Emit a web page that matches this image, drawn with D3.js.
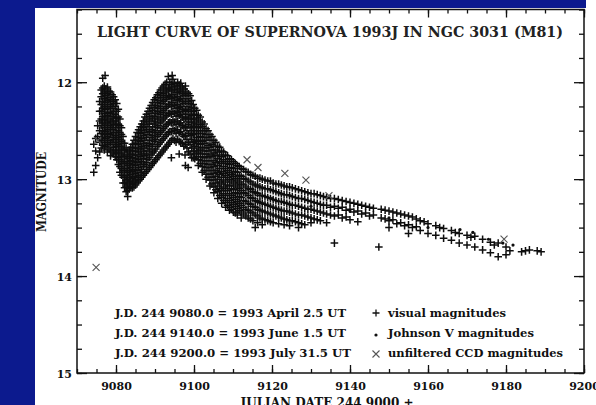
<!DOCTYPE html>
<html><head><meta charset="utf-8">
<script src="https://cdn.jsdelivr.net/npm/d3@7"></script>
<style>html,body{margin:0;padding:0;background:#0c1a8e;overflow:hidden}svg{display:block}</style>
</head><body><svg id="c" width="596" height="405"></svg>
<script>
// ---------- DATA ----------
const titleText = "LIGHT CURVE OF SUPERNOVA 1993J IN NGC 3031 (M81)";
const xTitle = "JULIAN DATE 244 9000 +";
const yTitle = "MAGNITUDE";
const xTicks = [9080, 9100, 9120, 9140, 9160, 9180, 9200];
const yTicks = [12, 13, 14, 15];
const xDomain = [9070, 9200];
const yDomain = [11.25, 15];
const dateNotes = ["J.D. 244 9080.0 = 1993 April 2.5 UT", "J.D. 244 9140.0 = 1993 June 1.5 UT", "J.D. 244 9200.0 = 1993 July 31.5 UT"];
const seriesLabels = ["visual magnitudes", "Johnson V magnitudes", "unfiltered CCD magnitudes"];

// visual magnitudes: [JD - 2440000, [magnitudes estimated near that date]]
const visualObs = [
[9074.3,[12.64,12.93]],[9074.8,[12.58,12.71,12.86]],[9075.3,[12.45,12.56,12.78]],
[9075.8,[12.2,12.3,12.4,12.5,12.62,12.72]],
[9076.2,[12.08,12.15,12.23,12.3,12.38,12.45,12.53,12.6,12.68]],
[9076.6,[11.96,12.06,12.12,12.2,12.27,12.35,12.42,12.5,12.57,12.65]],
[9077.0,[12.04,12.1,12.17,12.25,12.32,12.39,12.47,12.54,12.62,12.7]],
[9077.2,[11.93]],
[9077.4,[12.07,12.14,12.21,12.28,12.36,12.43,12.51,12.58,12.66]],
[9077.8,[12.05,12.12,12.19,12.27,12.34,12.41,12.49,12.56,12.64,12.72]],
[9078.2,[12.09,12.16,12.23,12.31,12.38,12.45,12.53,12.6,12.68]],
[9078.6,[12.1,12.18,12.25,12.32,12.4,12.47,12.54,12.62,12.7,12.76]],
[9079.0,[12.13,12.2,12.27,12.35,12.42,12.49,12.57,12.64,12.72]],
[9079.4,[12.15,12.22,12.3,12.37,12.44,12.52,12.59,12.67,12.74]],
[9079.8,[12.18,12.25,12.33,12.4,12.47,12.55,12.62,12.7,12.77]],
[9080.2,[12.22,12.3,12.37,12.44,12.52,12.59,12.66,12.73,12.8]],
[9080.6,[12.28,12.36,12.43,12.5,12.57,12.64,12.71,12.78,12.85]],
[9081.0,[12.38,12.45,12.52,12.59,12.66,12.73,12.8,12.87,12.93]],
[9081.4,[12.47,12.54,12.61,12.68,12.75,12.82,12.89,12.96]],
[9081.8,[12.56,12.63,12.7,12.77,12.84,12.91,12.98,13.04]],
[9082.2,[12.63,12.7,12.77,12.84,12.91,12.98,13.04,13.09]],
[9082.6,[12.68,12.75,12.82,12.89,12.96,13.02,13.08,13.13]],
[9083.0,[12.72,12.79,12.86,12.93,13.0,13.06,13.12,13.18]],
[9083.4,[12.7,12.77,12.84,12.91,12.98,13.04,13.1]],
[9083.8,[12.67,12.74,12.81,12.88,12.95,13.02,13.08]],
[9084.2,[12.64,12.71,12.78,12.85,12.92,12.99,13.05,13.09]],
[9084.6,[12.6,12.68,12.75,12.82,12.9,12.97,13.03,13.08]],
[9085.0,[12.56,12.63,12.71,12.79,12.86,12.94,13.01,13.06]],
[9085.4,[12.52,12.6,12.68,12.75,12.83,12.91,12.98,13.04]],
[9085.8,[12.49,12.57,12.64,12.72,12.8,12.88,12.96,13.02]],
[9086.2,[12.46,12.53,12.61,12.69,12.77,12.85,12.93,13.0]],
[9086.6,[12.43,12.5,12.58,12.66,12.74,12.82,12.9,12.98]],
[9087.0,[12.4,12.47,12.55,12.63,12.71,12.79,12.87,12.96]],
[9087.4,[12.36,12.44,12.52,12.6,12.68,12.76,12.85,12.94]],
[9087.8,[12.33,12.41,12.49,12.57,12.65,12.74,12.83,12.92]],
[9088.2,[12.3,12.38,12.46,12.54,12.63,12.71,12.8,12.9]],
[9088.6,[12.27,12.35,12.43,12.51,12.6,12.69,12.78,12.88]],
[9089.0,[12.24,12.32,12.4,12.49,12.57,12.66,12.75,12.86]],
[9089.4,[12.21,12.29,12.37,12.46,12.55,12.64,12.73,12.84]],
[9089.8,[12.18,12.26,12.35,12.43,12.52,12.61,12.71,12.82]],
[9090.2,[12.16,12.24,12.32,12.41,12.5,12.59,12.69,12.8]],
[9090.6,[12.13,12.21,12.3,12.38,12.47,12.56,12.66,12.78]],
[9091.0,[12.11,12.19,12.27,12.36,12.45,12.54,12.64,12.76]],
[9091.4,[12.08,12.16,12.25,12.33,12.42,12.52,12.62,12.74]],
[9091.8,[12.06,12.14,12.22,12.31,12.4,12.5,12.6,12.72]],
[9092.2,[12.04,12.12,12.2,12.29,12.38,12.48,12.58,12.7]],
[9092.6,[12.02,12.1,12.18,12.27,12.36,12.46,12.56,12.68]],
[9093.0,[12.0,12.08,12.16,12.25,12.34,12.44,12.54,12.66]],
[9093.4,[11.94,12.06,12.14,12.23,12.32,12.42,12.52,12.64]],
[9093.8,[12.0,12.07,12.15,12.23,12.32,12.41,12.51,12.62]],
[9094.2,[12.02,12.09,12.17,12.25,12.33,12.42,12.51,12.6,12.78]],
[9094.4,[11.93]],
[9094.6,[11.97,12.05,12.13,12.21,12.3,12.39,12.48,12.58]],
[9095.0,[12.01,12.08,12.16,12.24,12.32,12.41,12.5,12.6]],
[9095.4,[12.04,12.11,12.19,12.27,12.35,12.44,12.53,12.62]],
[9095.8,[12.0,12.07,12.15,12.23,12.31,12.4,12.49,12.59]],
[9096.2,[12.03,12.1,12.18,12.26,12.34,12.43,12.52,12.61,12.74]],
[9096.6,[12.01,12.09,12.17,12.25,12.33,12.42,12.51,12.62]],
[9097.0,[12.05,12.12,12.2,12.28,12.36,12.45,12.54,12.63]],
[9097.4,[12.07,12.14,12.22,12.3,12.38,12.47,12.56,12.66]],
[9097.7,[12.75]],
[9097.8,[12.04,12.12,12.2,12.29,12.37,12.46,12.55,12.64,12.86]],
[9098.2,[12.1,12.17,12.25,12.33,12.41,12.5,12.59,12.68]],
[9098.5,[12.88]],
[9098.6,[12.12,12.2,12.28,12.36,12.44,12.53,12.62,12.72]],
[9099.0,[12.14,12.22,12.3,12.38,12.47,12.55,12.64,12.74]],
[9099.4,[12.19,12.26,12.34,12.42,12.5,12.59,12.68,12.78]],
[9099.8,[12.23,12.3,12.38,12.46,12.54,12.62,12.71,12.78]],
[9100.2,[12.27,12.33,12.41,12.46,12.53,12.61,12.66,12.74,12.79]],
[9100.7,[12.29,12.37,12.43,12.5,12.57,12.63,12.71,12.77]],
[9101.1,[12.34,12.39,12.47,12.53,12.6,12.68,12.73,12.8,12.86]],
[9101.6,[12.36,12.44,12.5,12.56,12.64,12.7,12.77,12.84]],
[9102.1,[12.41,12.46,12.53,12.61,12.67,12.74,12.81,12.87,12.93]],
[9102.6,[12.43,12.5,12.57,12.63,12.71,12.78,12.84,12.91]],
[9103.1,[12.48,12.54,12.6,12.68,12.74,12.81,12.88,12.95,13.0]],
[9103.6,[12.5,12.57,12.65,12.71,12.77,12.85,12.91,12.98]],
[9104.1,[12.54,12.6,12.67,12.75,12.81,12.88,12.95,13.01,13.07]],
[9104.6,[12.56,12.64,12.7,12.77,12.85,12.91,12.98,13.05]],
[9105.1,[12.6,12.66,12.73,12.81,12.87,12.94,13.01,13.08,13.14]],
[9105.6,[12.62,12.7,12.76,12.83,12.91,12.97,13.04,13.11]],
[9106.1,[12.66,12.72,12.79,12.86,12.93,13.0,13.07,13.13,13.2]],
[9106.6,[12.67,12.75,12.82,12.89,12.95,13.03,13.1,13.17]],
[9107.1,[12.71,12.77,12.84,12.92,12.98,13.05,13.12,13.19,13.25]],
[9107.6,[12.72,12.8,12.87,12.94,13.01,13.08,13.15,13.22]],
[9108.1,[12.75,12.82,12.89,12.96,13.03,13.1,13.17,13.24,13.29]],
[9108.6,[12.76,12.84,12.91,12.98,13.06,13.12,13.2,13.27]],
[9109.1,[12.79,12.85,12.93,13.0,13.07,13.15,13.22,13.29,13.32]],
[9109.6,[12.8,12.88,12.95,13.02,13.1,13.17,13.24,13.31]],
[9110.1,[12.82,12.89,12.97,13.04,13.11,13.19,13.26,13.34]],
[9110.6,[12.84,12.92,12.99,13.06,13.14,13.21,13.28,13.35]],
[9111.1,[12.86,12.93,13.01,13.08,13.15,13.23,13.3,13.37]],
[9111.6,[12.87,12.96,13.03,13.1,13.18,13.25,13.32]],
[9112.1,[12.89,12.97,13.05,13.12,13.19,13.27,13.34,13.4]],
[9112.7,[12.9,12.99,13.06,13.14,13.22,13.29,13.36]],
[9113.3,[12.92,13.0,13.08,13.15,13.23,13.31,13.38]],
[9113.9,[12.93,13.02,13.1,13.17,13.25,13.32,13.4]],
[9114.5,[12.95,13.03,13.11,13.19,13.26,13.34,13.41]],
[9115.1,[12.96,13.05,13.13,13.2,13.28,13.35,13.43]],
[9115.7,[12.97,13.06,13.14,13.22,13.29,13.37,13.5]],
[9116.3,[12.99,13.07,13.15,13.23,13.31,13.38,13.45]],
[9116.9,[12.99,13.08,13.17,13.24,13.32,13.4]],
[9117.5,[13.0,13.09,13.17,13.25,13.33,13.41,13.47]],
[9118.2,[13.01,13.1,13.18,13.26,13.34,13.42]],
[9118.9,[13.02,13.1,13.19,13.27,13.35,13.43]],
[9119.6,[13.02,13.11,13.2,13.28,13.36,13.44]],
[9120.3,[13.04,13.12,13.21,13.29,13.37,13.45]],
[9121.0,[13.05,13.13,13.22,13.3,13.38]],
[9121.7,[13.05,13.14,13.23,13.31,13.39,13.46]],
[9122.4,[13.06,13.15,13.23,13.32,13.4]],
[9123.1,[13.07,13.16,13.24,13.33,13.41,13.47]],
[9123.8,[13.08,13.16,13.25,13.33,13.42]],
[9124.5,[13.08,13.17,13.26,13.34,13.43,13.48]],
[9125.2,[13.09,13.18,13.27,13.35,13.43]],
[9126.0,[13.1,13.19,13.27,13.36,13.44]],
[9126.8,[13.11,13.2,13.28,13.37,13.45,13.5]],
[9127.6,[13.12,13.2,13.29,13.37,13.46]],
[9128.4,[13.13,13.21,13.3,13.38,13.47]],
[9129.2,[13.14,13.22,13.31,13.39]],
[9130.0,[13.15,13.23,13.31,13.4,13.45]],
[9130.8,[13.15,13.24,13.32,13.41]],
[9131.6,[13.16,13.25,13.33,13.42]],
[9132.4,[13.17,13.26,13.34,13.43]],
[9133.2,[13.18,13.27,13.35]],
[9134.0,[13.19,13.27,13.36,13.45]],
[9135.0,[13.2,13.29,13.37]],
[9136.0,[13.2,13.28,13.38,13.66]],
[9137.0,[13.21,13.3,13.37]],[9138.0,[13.22,13.29,13.4]],[9139.0,[13.23,13.32,13.39]],
[9140.0,[13.24,13.31,13.42]],[9141.0,[13.25,13.34]],[9142.0,[13.26,13.33,13.44]],
[9143.0,[13.27,13.36]],[9144.0,[13.28,13.35]],[9145.0,[13.29,13.38]],[9146.0,[13.3,13.37]],
[9147.4,[13.7]],[9148.0,[13.31,13.4]],[9149.0,[13.32,13.41]],[9150.0,[13.33,13.43,13.5]],
[9151.0,[13.34,13.42]],[9152.0,[13.35,13.46]],[9153.0,[13.36,13.45]],[9154.0,[13.37,13.48]],
[9155.0,[13.38,13.47,13.56]],[9156.0,[13.39,13.5]],[9157.0,[13.41,13.49]],[9158.0,[13.43,13.53]],
[9159.0,[13.44]],[9160.0,[13.46,13.56]],[9162.0,[13.48,13.58]],[9163.0,[13.5]],
[9164.0,[13.51,13.61]],[9166.0,[13.53,13.63]],[9167.0,[13.55]],[9168.0,[13.56,13.66]],
[9170.0,[13.58,13.68]],[9171.0,[13.6]],[9172.0,[13.59,13.7]],[9174.0,[13.62,13.73]],
[9176.0,[13.65,13.76]],[9177.0,[13.68]],[9178.0,[13.66,13.8]],[9180.0,[13.7,13.78]],
[9181.0,[13.74]],[9184.0,[13.75]],[9185.0,[13.74]],[9186.0,[13.73]],[9188.0,[13.74]],[9189.0,[13.75]]
];
// Johnson V magnitudes: [JD - 2440000, mag]
const johnsonV = [[9096.0,12.3],[9100.0,12.45],[9105.0,12.75],[9110.0,12.95],[9115.0,13.1],[9120.0,13.2],
[9130.0,13.28],[9140.0,13.33],[9150.0,13.4],[9160.0,13.5],[9168.2,13.52],[9171.5,13.55],[9175.5,13.62],[9179.2,13.66],[9181.8,13.68]];
// unfiltered CCD magnitudes: [JD - 2440000, mag]
const ccdObs = [[9074.9,13.91],[9075.3,12.6],[9113.6,12.8],[9116.4,12.88],[9123.3,12.94],[9128.7,13.01],[9134.6,13.17],[9179.5,13.62]];

// ---------- DRAWING ----------
const W = 596, H = 405;
const BLUE = "#0c1a8e", INK = "#111";
const FONT = "'DejaVu Serif', 'Liberation Serif', serif";
const svg = d3.select("#c");
const defs = svg.append("defs");
defs.append("filter").attr("id", "soft").attr("x", "-5%").attr("y", "-5%").attr("width", "110%").attr("height", "110%")
  .append("feGaussianBlur").attr("stdDeviation", 0.55);

svg.append("rect").attr("width", W).attr("height", H).attr("fill", BLUE);
svg.append("rect").attr("x", 35).attr("y", 8).attr("width", W - 35).attr("height", H - 8).attr("fill", "#fff");
svg.append("rect").attr("x", 586).attr("y", 0).attr("width", 10).attr("height", 8).attr("fill", "#fff");

const L = 77, R = 584, T = 9.5, B = 373;
const x = d3.scaleLinear().domain(xDomain).range([L, R]);
const y = d3.scaleLinear().domain(yDomain).range([T, B]);

const minorX = x.ticks(26);
const minorY = d3.range(yDomain[0], yDomain[1] + 0.001, 0.25);

function styleAxis(g) {
  g.select(".domain").remove();
  g.selectAll(".tick line").attr("stroke", INK).attr("stroke-width", 1.3);
  g.selectAll(".tick text").attr("fill", INK).style("font-family", FONT).style("font-weight", "bold").style("font-size", "11px");
}
svg.append("g").attr("transform", `translate(0,${B})`).call(d3.axisBottom(x).tickValues(minorX).tickSize(-4).tickFormat("")).call(styleAxis);
svg.append("g").attr("transform", `translate(0,${B})`).call(d3.axisBottom(x).tickValues(xTicks).tickSize(-8).tickPadding(12).tickFormat(d3.format("d"))).call(styleAxis);
svg.append("g").attr("transform", `translate(0,${T})`).call(d3.axisTop(x).tickValues(minorX).tickSize(-4).tickFormat("")).call(styleAxis);
svg.append("g").attr("transform", `translate(0,${T})`).call(d3.axisTop(x).tickValues(xTicks).tickSize(-8).tickFormat("")).call(styleAxis);
svg.append("g").attr("transform", `translate(${L},0)`).call(d3.axisLeft(y).tickValues(minorY).tickSize(-5).tickFormat("")).call(styleAxis);
svg.append("g").attr("transform", `translate(${L},0)`).call(d3.axisLeft(y).tickValues(yTicks).tickSize(-10).tickPadding(5).tickFormat(d3.format("d"))).call(styleAxis);
svg.append("g").attr("transform", `translate(${R},0)`).call(d3.axisRight(y).tickValues(minorY).tickSize(-5).tickFormat("")).call(styleAxis);
svg.append("g").attr("transform", `translate(${R},0)`).call(d3.axisRight(y).tickValues(yTicks).tickSize(-10).tickFormat("")).call(styleAxis);
svg.selectAll(".tick text").attr("dy", "0.42em");

svg.append("rect").attr("x", L).attr("y", T).attr("width", R - L).attr("height", B - T)
  .attr("fill", "none").attr("stroke", INK).attr("stroke-width", 1.5);

const plusPath = (cx, cy, s) => `M${cx - s},${cy}H${cx + s}M${cx},${cy - s}V${cy + s}`;
const crossPath = (cx, cy, s) => `M${cx - s},${cy - s}L${cx + s},${cy + s}M${cx - s},${cy + s}L${cx + s},${cy - s}`;

const marks = svg.append("g").attr("filter", "url(#soft)");
const visualPts = visualObs.flatMap(([jd, ms]) => ms.map(m => [jd, m]));
marks.append("g").selectAll("path").data(visualPts).join("path")
  .attr("d", d => plusPath(x(d[0]), y(d[1]), 3.8))
  .attr("stroke", INK).attr("stroke-width", 1.5).attr("fill", "none");
marks.append("g").selectAll("circle").data(johnsonV).join("circle")
  .attr("cx", d => x(d[0])).attr("cy", d => y(d[1])).attr("r", 1.6).attr("fill", INK);
marks.append("g").selectAll("path").data(ccdObs).join("path")
  .attr("d", d => crossPath(x(d[0]), y(d[1]), 3.5))
  .attr("stroke", "#555").attr("stroke-width", 1.1).attr("fill", "none");

svg.append("text").attr("x", 330).attr("y", 37).attr("text-anchor", "middle")
  .attr("textLength", 466).attr("lengthAdjust", "spacingAndGlyphs")
  .style("font-family", FONT).style("font-weight", "bold").style("font-size", "14px").attr("fill", "#222")
  .text(titleText);

const noteLen = [231, 231, 236];
dateNotes.forEach((t, i) => {
  svg.append("text").attr("x", 115).attr("y", 317 + i * 20)
    .attr("textLength", noteLen[i]).attr("lengthAdjust", "spacingAndGlyphs")
    .style("font-family", FONT).style("font-weight", "bold").style("font-size", "11px").attr("fill", INK).text(t);
});
const labLen = [118, 146, 175];
seriesLabels.forEach((t, i) => {
  const cy = 313 + i * 20 + (i === 1 ? 2 : 0);
  if (i === 0) svg.append("path").attr("d", plusPath(376, cy, 3.5)).attr("stroke", INK).attr("stroke-width", 1.3);
  if (i === 1) svg.append("circle").attr("cx", 376).attr("cy", cy).attr("r", 1.6).attr("fill", INK);
  if (i === 2) svg.append("path").attr("d", crossPath(376, cy + 1, 3.5)).attr("stroke", "#555").attr("stroke-width", 1.1);
  svg.append("text").attr("x", 388).attr("y", 317 + i * 20)
    .attr("textLength", labLen[i]).attr("lengthAdjust", "spacingAndGlyphs")
    .style("font-family", FONT).style("font-weight", "bold").style("font-size", "11px").attr("fill", INK).text(t);
});

svg.append("text").attr("x", 327).attr("y", 407).attr("text-anchor", "middle")
  .attr("textLength", 173).attr("lengthAdjust", "spacingAndGlyphs")
  .style("font-family", FONT).style("font-weight", "bold").style("font-size", "12px").attr("fill", INK).text(xTitle);
svg.append("text").attr("transform", "translate(46,192) rotate(-90)").attr("text-anchor", "middle")
  .attr("textLength", 80).attr("lengthAdjust", "spacingAndGlyphs")
  .style("font-family", FONT).style("font-weight", "bold").style("font-size", "13px").attr("fill", INK).text(yTitle);

svg.append("rect").attr("x", 0).attr("y", 0).attr("width", 35).attr("height", H).attr("fill", BLUE);
</script>
</body></html>
